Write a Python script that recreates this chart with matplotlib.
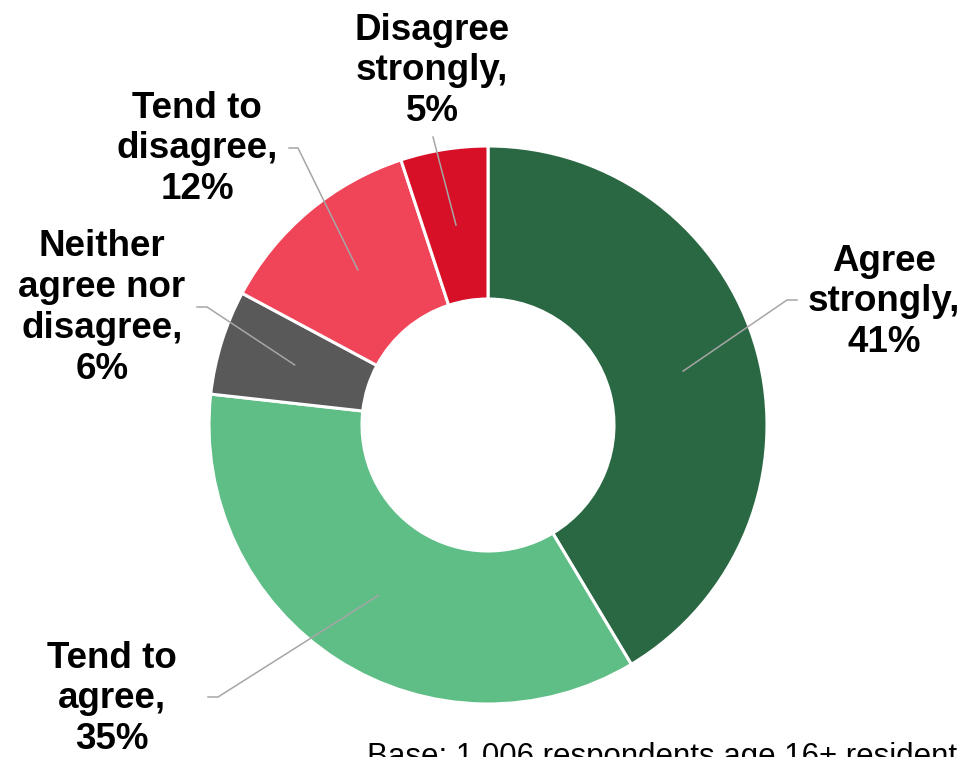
import numpy as np
import matplotlib.pyplot as plt

plt.rcParams['font.family'] = ['Liberation Sans', 'DejaVu Sans']

# Encuesta: respuestas en porcentaje
categorias = ["Agree\nstrongly", "Tend to\nagree", "Neither\nagree nor\ndisagree",
              "Tend to\ndisagree", "Disagree\nstrongly"]
valores = [41, 35, 6, 12, 5]
colores = ["#2a6843", "#5fbd86", "#595959", "#f04458", "#d71027"]
nota = "Base: 1,006 respondents age 16+ resident"

# Posicion de etiquetas (px, y hacia abajo): centro del texto, codo de la linea, final
pos_texto = [(884, 302), (112, 699), (102, 308), (197, 149), (432, 71)]
pos_codo = [(787, 300), (218, 697), (207, 307), (298, 148), (433, 137)]
pos_fin = [(797, 300), (208, 697), (197, 307), (289, 148), (433, 137)]

W, H = 962, 757
cx, cy = 488, H - 425
R, r_int = 279, 126

fig = plt.figure(figsize=(W / 100, H / 100), dpi=100)
ax = fig.add_axes([0, 0, 1, 1])

wedges, _ = ax.pie(valores, colors=colores, startangle=90, counterclock=False,
                   center=(cx, cy), radius=R,
                   wedgeprops=dict(width=R - r_int, edgecolor="white", linewidth=2.2))
ax.set_xlim(0, W)
ax.set_ylim(0, H)
ax.axis("off")

r_med = (R + r_int) / 2
for w, cat, v, pt, pc, pf in zip(wedges, categorias, valores, pos_texto, pos_codo, pos_fin):
    ang = np.deg2rad((w.theta1 + w.theta2) / 2)
    x0, y0 = cx + r_med * np.cos(ang), cy + r_med * np.sin(ang)
    ax.plot([x0, pc[0], pf[0]], [y0, H - pc[1], H - pf[1]], color="#a6a6a6", lw=1.1)
    ax.text(pt[0], H - pt[1], f"{cat},\n{v}%", ha="center", va="center",
            fontsize=26.5, fontweight="bold", linespacing=1.22)

ax.text(367, H - 765, nota, ha="left", va="baseline", fontsize=22.5)

fig.savefig("out.png", dpi=100)
